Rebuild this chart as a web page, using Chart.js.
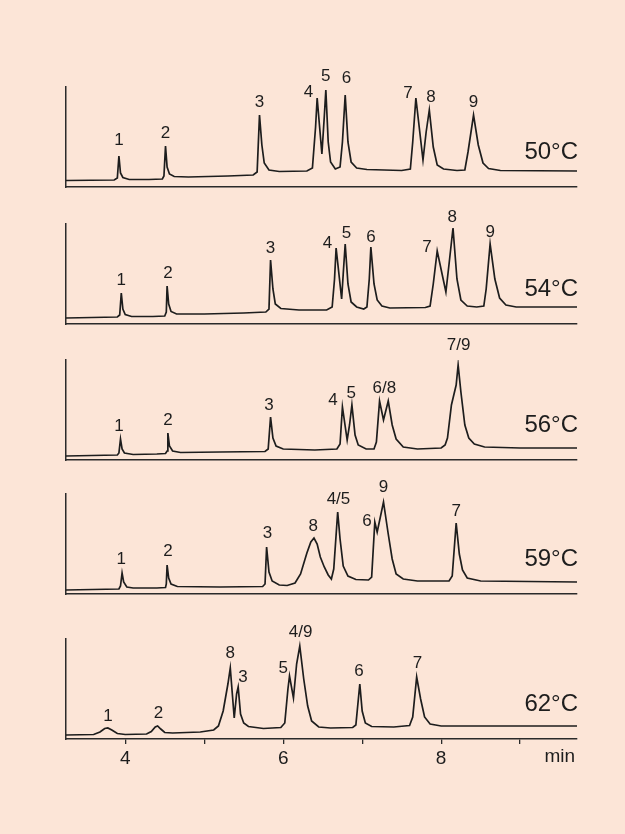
<!DOCTYPE html>
<html>
<head>
  <meta charset="utf-8">
  <title>chromatograms</title>
  <script src="https://cdn.jsdelivr.net/npm/chart.js@4"></script>
  <style>
    body { margin: 0; background: #fce5d7; }
    #wrap { position: relative; width: 625px; height: 834px; }
    #wrap canvas { position: absolute; left: 0; }
  </style>
</head>
<body>
  <div id="wrap"></div>
  <script>
  // column temperatures, top to bottom
  const temps = ['50°C', '54°C', '56°C', '59°C', '62°C'];

  // traces: [minutes, detector signal]
  const trace50 = [[3.25,6.5],[3.86,7],[3.90,9],[3.92,31],[3.94,14],[3.97,9.5],[4.05,7.5],[4.30,7.5],[4.47,8],[4.49,11],[4.51,41],[4.53,20],[4.56,13],[4.62,10.5],[4.80,10],[5.30,11],[5.62,12],[5.67,15],[5.70,72],[5.73,42],[5.76,24],[5.82,17],[5.95,15.5],[6.30,16],[6.37,19],[6.41,60],[6.43,89],[6.49,33],[6.52,70],[6.54,97],[6.57,45],[6.60,25],[6.66,18],[6.72,20],[6.75,45],[6.785,92],[6.82,45],[6.86,25],[6.93,19],[7.06,17.5],[7.50,16.5],[7.61,18],[7.64,45],[7.68,89],[7.77,27],[7.81,55],[7.85,77],[7.90,40],[7.95,22],[8.03,18],[8.20,16.5],[8.30,17],[8.34,35],[8.41,72],[8.47,42],[8.53,24],[8.60,18.5],[8.75,16.5],[9.72,16]];
  const trace54 = [[3.25,6],[3.90,7],[3.93,9],[3.95,31],[3.97,15],[4.00,9.5],[4.08,7.5],[4.35,7.5],[4.50,8],[4.52,12],[4.53,38],[4.55,20],[4.58,12.5],[4.65,10],[5.00,10],[5.50,11],[5.78,12],[5.82,15],[5.84,64],[5.87,35],[5.90,20],[5.97,15.5],[6.20,14],[6.55,14],[6.62,17],[6.65,45],[6.67,76],[6.74,25],[6.76,50],[6.785,80],[6.82,40],[6.86,22],[6.93,17],[7.02,15],[7.06,17],[7.09,45],[7.11,77],[7.15,40],[7.19,24],[7.25,18],[7.35,16],[7.80,16.5],[7.86,18],[7.90,40],[7.95,73],[8.06,32],[8.10,60],[8.15,96],[8.20,45],[8.25,24],[8.33,18],[8.45,17],[8.54,18],[8.57,35],[8.62,80],[8.68,45],[8.74,26],[8.82,19],[8.95,17],[9.72,17]];
  const trace56 = [[3.25,4],[3.90,5],[3.92,7],[3.94,21],[3.96,11],[3.99,7],[4.10,5.5],[4.40,6],[4.51,6.5],[4.53,9],[4.54,27],[4.56,14],[4.60,9],[4.70,7.5],[5.20,8],[5.77,8.5],[5.81,11],[5.84,43],[5.87,22],[5.91,14],[6.00,11],[6.40,10],[6.68,11],[6.72,16],[6.75,53],[6.81,20],[6.84,35],[6.87,55],[6.91,25],[6.95,15],[7.05,11],[7.15,11],[7.18,18],[7.22,59],[7.27,40],[7.33,59],[7.38,35],[7.43,21],[7.52,13],[7.70,11],[8.00,12],[8.05,15],[8.08,22],[8.13,55],[8.19,75],[8.215,95],[8.25,68],[8.30,35],[8.35,22],[8.42,16],[8.55,13],[9.00,12],[9.72,12]];
  const trace59 = [[3.25,4],[3.92,5],[3.94,8],[3.96,21],[3.98,12],[4.02,7],[4.10,6],[4.40,6],[4.51,6.5],[4.52,10],[4.53,29],[4.55,16],[4.58,10],[4.66,7.5],[5.20,7],[5.74,7.5],[5.77,10],[5.79,47],[5.82,22],[5.86,13],[5.95,9],[6.05,8.5],[6.15,11],[6.22,20],[6.30,41],[6.35,52],[6.39,56],[6.43,50],[6.47,37],[6.52,27],[6.57,19],[6.61,15],[6.64,25],[6.69,82],[6.72,55],[6.76,28],[6.82,18],[6.92,14.5],[7.08,14],[7.12,17],[7.16,72],[7.19,62],[7.27,92],[7.33,60],[7.38,35],[7.43,20],[7.52,15],[7.70,13],[8.10,13],[8.14,18],[8.19,71],[8.23,40],[8.27,24],[8.33,16],[8.50,13],[9.72,12]];
  const trace62 = [[3.25,4],[3.60,4.5],[3.68,7],[3.74,10.5],[3.78,11],[3.83,9],[3.90,5.5],[4.00,4.5],[4.27,5],[4.33,7.5],[4.38,12],[4.41,13],[4.45,10],[4.50,6.5],[4.60,6],[4.95,7],[5.12,9],[5.18,13],[5.24,28],[5.30,55],[5.33,71],[5.38,21],[5.41,45],[5.43,52],[5.46,25],[5.50,16],[5.56,12.5],[5.75,10.5],[5.97,11.5],[6.02,16],[6.06,50],[6.08,63],[6.13,41],[6.17,75],[6.21,93],[6.26,60],[6.31,33],[6.36,18],[6.45,12],[6.60,11],[6.88,11.5],[6.92,14],[6.97,55],[7.00,28],[7.04,16],[7.12,12.5],[7.40,12],[7.60,13.5],[7.64,22],[7.69,62],[7.74,40],[7.79,22],[7.86,15],[8.00,13],[9.72,13]];

  // peak names and where they sit: [name, minutes, signal]
  const peaks50 = [['1',3.92,47],['2',4.51,54],['3',5.70,85],['4',6.32,95],['5',6.54,111],['6',6.80,109],['7',7.58,94],['8',7.87,90],['9',8.41,85]];
  const peaks54 = [['1',3.95,44],['2',4.54,51],['3',5.84,76],['4',6.56,81],['5',6.80,91],['6',7.11,87],['7',7.82,77],['8',8.14,107],['9',8.62,92]];
  const peaks56 = [['1',3.92,34],['2',4.54,40],['3',5.82,55],['4',6.63,60],['5',6.86,67],['6/8',7.28,72],['7/9',8.22,115]];
  const peaks59 = [['1',3.95,35],['2',4.54,43],['3',5.80,61],['8',6.38,68],['4/5',6.70,95],['6',7.06,73],['9',7.27,107],['7',8.19,83]];
  const peaks62 = [['1',3.78,23],['2',4.42,26],['8',5.33,86],['3',5.49,62],['5',6.00,71],['4/9',6.22,107],['6',6.96,68],['7',7.70,76]];

  const xTicks = [4, 5, 6, 7, 8, 9];
  const xTickLabels = ['4', '', '6', '', '8', ''];
  const xUnit = 'min';

  const traces = [trace50, trace54, trace56, trace59, trace62];
  const peaks = [peaks50, peaks54, peaks56, peaks59, peaks62];

  const ink = '#1d1d1d';
  const fontFamily = '"Liberation Sans", Arial, sans-serif';
  const bottoms = [187, 324, 460, 594, 739];   // pixel row of each panel's base line
  const padTop = 30, padBottom = 10, axisH = 30;

  const labelsPlugin = {
    id: 'peakLabels',
    afterDatasetsDraw(chart) {
      const {ctx, chartArea, scales: {x, y}} = chart;
      const idx = chart.options.plugins.peakLabels.index;
      ctx.save();
      ctx.fillStyle = ink;
      ctx.textAlign = 'center';
      ctx.textBaseline = 'middle';
      ctx.font = '17px ' + fontFamily;
      peaks[idx].forEach(function(p){
        ctx.fillText(p[0], x.getPixelForValue(p[1]), y.getPixelForValue(p[2]));
      });
      ctx.font = '24px ' + fontFamily;
      ctx.textAlign = 'right';
      ctx.fillText(temps[idx], chartArea.right + 1, y.getPixelForValue(35));
      if (idx === temps.length - 1) {
        ctx.font = '19px ' + fontFamily;
        ctx.textBaseline = 'top';
        ctx.fillText(xUnit, chartArea.right - 2, chartArea.bottom + 8);
      }
      ctx.restore();
    }
  };

  const wrap = document.getElementById('wrap');
  traces.forEach(function(trace, i){
    const last = i === traces.length - 1;
    const canvas = document.createElement('canvas');
    canvas.width = 625;
    canvas.height = padTop + 100 + (last ? axisH : 0) + padBottom;
    canvas.style.top = (bottoms[i] - 100 - padTop) + 'px';
    wrap.appendChild(canvas);

    new Chart(canvas, {
      type: 'line',
      data: {
        datasets: [{
          data: trace.map(p => ({x: p[0], y: p[1]})),
          borderColor: ink,
          borderWidth: 1.7,
          pointRadius: 0,
          fill: false,
        }],
      },
      options: {
        responsive: false,
        animation: false,
        devicePixelRatio: 1,
        layout: {autoPadding: false, padding: {left: 66, right: 48, top: padTop, bottom: padBottom}},
        plugins: {legend: {display: false}, tooltip: {enabled: false}, peakLabels: {index: i}},
        scales: {
          x: {
            type: 'linear',
            min: 3.25,
            max: 9.72,
            afterBuildTicks: s => { s.ticks = xTicks.map(v => ({value: v})); },
            afterFit: s => { s.height = last ? axisH : 0; },
            ticks: {
              display: last,
              autoSkip: false,
              maxRotation: 0,
              padding: 3,
              color: ink,
              font: {family: fontFamily, size: 19},
              callback: v => xTickLabels[xTicks.indexOf(v)],
            },
            grid: {display: last, drawOnChartArea: false, drawTicks: last, tickLength: 5, color: '#2a2a2a', lineWidth: 1.3},
            border: {display: true, color: '#2a2a2a', width: 1.5},
          },
          y: {
            min: 0,
            max: 100,
            afterFit: s => { s.width = 0; },
            ticks: {display: false},
            grid: {display: false, drawTicks: false},
            border: {display: true, color: '#2a2a2a', width: 1.5},
          },
        },
      },
      plugins: [labelsPlugin],
    });
  });
  </script>
</body>
</html>
